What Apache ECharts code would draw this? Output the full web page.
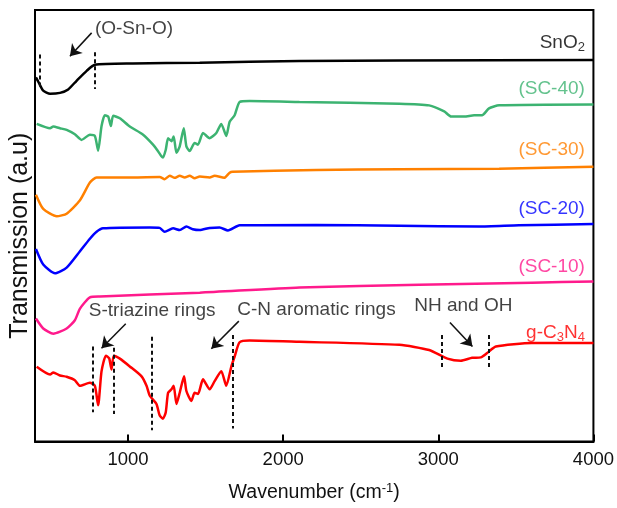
<!DOCTYPE html>
<html><head><meta charset="utf-8">
<script src="https://cdn.jsdelivr.net/npm/echarts@6/dist/echarts.min.js"></script>
<style>html,body{margin:0;padding:0;background:#fff}#c{width:617px;height:508px}</style>
</head><body><div id="c"></div>
<script>
// X tick labels (wavenumber, cm-1)
const xTicks = [1000, 2000, 3000, 4000];

// Spectra: [wavenumber, transmission (a.u., offset)]
const sno2 = [[406,84.4],[428,82.9],[453,81.3],[497,80.6],[561,80.8],[614,81.6],[668,83.6],[733,85.9],[786,87.3],[1031,87.6],[1462,87.8],[2105,88.2],[2749,88.3],[4000,88.4]];
const sc40 = [[411,73.6],[497,72.6],[518,73.0],[561,72.6],[604,72.2],[657,71.2],[700,69.9],[754,71.1],[786,70.8],[807,67.4],[829,73.1],[850,75.6],[872,75.3],[889,73.1],[904,75.5],[947,74.9],[1011,73.0],[1097,71.1],[1161,68.8],[1191,67.4],[1215,66.1],[1225,65.8],[1243,67.6],[1258,70.3],[1280,69.6],[1294,70.7],[1312,66.9],[1333,68.4],[1359,72.6],[1376,68.4],[1397,67.3],[1429,69.2],[1451,68.8],[1483,71.5],[1526,70.3],[1569,71.5],[1601,73.6],[1633,70.8],[1655,74.1],[1687,75.6],[1719,78.7],[1783,78.9],[2105,78.7],[2749,78.3],[2941,77.9],[3038,76.5],[3083,75.3],[3167,75.3],[3231,75.6],[3282,75.6],[3327,77.2],[3392,77.9],[4000,78.1]];
const sc30 = [[406,57.2],[453,53.9],[540,52.2],[604,52.8],[690,55.9],[754,60.0],[797,61.2],[1031,61.2],[1204,61.3],[1236,60.8],[1269,61.6],[1300,61.1],[1333,61.6],[1365,61.2],[1397,61.6],[1429,61.0],[1462,61.4],[1526,61.2],[1558,61.6],[1620,61.1],[1655,62.3],[1674,62.5],[2212,62.9],[2749,63.1],[3392,63.2],[4000,63.7]];
const sc20 = [[406,44.6],[453,41.0],[529,39.0],[604,40.3],[690,44.1],[754,47.0],[797,48.6],[839,49.4],[1140,49.6],[1204,49.5],[1236,48.6],[1290,49.4],[1333,49.0],[1376,49.8],[1417,49.2],[1462,49.0],[1526,49.5],[1590,49.6],[1644,48.9],[1719,50.1],[2212,50.2],[2749,50.0],[3263,49.8],[3520,50.1],[4000,50.4]];
const sc10 = [[406,28.5],[453,26.2],[518,25.0],[604,26.2],[657,28.1],[690,30.8],[754,33.4],[818,33.6],[1462,34.5],[2105,35.7],[2877,36.3],[3604,36.8],[4000,37.1]];
const gcn = [[411,17.3],[497,15.5],[518,16.0],[561,15.3],[604,15.0],[657,14.2],[690,12.9],[754,13.6],[786,12.9],[807,8.4],[829,16.3],[857,19.9],[878,19.3],[893,16.7],[908,19.9],[947,19.2],[1011,17.4],[1087,15.1],[1119,12.9],[1140,10.6],[1183,8.7],[1204,6.0],[1225,5.3],[1243,6.8],[1258,11.3],[1280,12.1],[1294,12.9],[1312,8.7],[1333,11.3],[1361,15.1],[1376,11.7],[1408,9.4],[1429,11.3],[1451,11.0],[1483,14.4],[1526,12.1],[1558,14.0],[1601,16.3],[1633,12.9],[1666,17.4],[1687,19.7],[1719,23.0],[1783,23.4],[2105,23.1],[2749,22.4],[2941,21.2],[3059,19.2],[3145,18.7],[3218,19.4],[3274,19.5],[3315,20.5],[3371,22.0],[3604,22.8],[4000,22.8]];

const seriesNames = ['SnO2', '(SC-40)', '(SC-30)', '(SC-20)', '(SC-10)', 'g-C3N4'];
const seriesData = [sno2, sc40, sc30, sc20, sc10, gcn];
const seriesColors = ['#000000', '#3cb371', '#ff8000', '#0000ff', '#ff1a8c', '#ff0000'];
const seriesLabels = ['SnO{s|2}', '(SC-40)', '(SC-30)', '(SC-20)', '(SC-10)', 'g-C{s|3}N{s|4}'];
const labelAnchors = [[3945,92.5],[3945,81.7],[3945,67.6],[3945,53.9],[3945,40.6],[3945,25.3]];

// Band markers: [wavenumber, yTop, yBottom]
const bandLines = [[428,89.7,81.7],[786,90.2,81.7],[775,22.0,6.8],[910,21.7,6.4],[1151,24.3,2.6],[1676,24.7,3.0],[3023,24.7,16.7],[3323,24.7,16.7]];
// Arrows: [x1, y1, x2, y2]
const arrows = [[765,94.7,625,89.3],[985,27.3,829,21.6],[1714,27.9,1537,21.5],[3075,27.6,3220,22.0]];
// Annotation texts and anchors (left edge, middle)
const noteTexts = ['(O-Sn-O)', 'S-triazine rings', 'C-N aromatic rings', 'NH and OH'];
const noteAnchors = [[786,95.7],[747,30.4],[1704,30.6],[2845,31.5]];

const FONT = 'Liberation Sans, Arial, Helvetica, sans-serif';
const chart = echarts.init(document.getElementById('c'), null, {renderer: 'canvas'});

const series = [];
seriesData.forEach((d, i) => {
  series.push({
    type: 'line', name: seriesNames[i], data: d, showSymbol: false, symbol: 'none',
    smooth: 0.2, lineStyle: {color: seriesColors[i], width: 2.5}, itemStyle: {color: seriesColors[i]},
    silent: true, z: 3
  });
});
// series labels
series.push({
  type: 'scatter', symbolSize: 0, silent: true, z: 5,
  data: labelAnchors.map((p, i) => ({
    value: p,
    label: {
      show: true, position: 'inside', align: 'right', verticalAlign: 'middle',
      formatter: seriesLabels[i], color: seriesColors[i], fontSize: 19, fontFamily: FONT,
      rich: {s: {fontSize: 13, color: seriesColors[i], fontFamily: FONT, padding: [10, 0, 0, 0]}}
    }
  }))
});
// annotation texts
series.push({
  type: 'scatter', symbolSize: 0, silent: true, z: 5,
  data: noteAnchors.map((p, i) => ({
    value: p,
    label: {show: true, position: 'inside', align: 'left', verticalAlign: 'middle',
      formatter: noteTexts[i], color: '#111', fontSize: 19, fontFamily: FONT}
  }))
});
// dashed band markers
series.push({
  type: 'lines', coordinateSystem: 'cartesian2d', silent: true, z: 4,
  lineStyle: {color: '#111', width: 2, type: [4, 3], opacity: 1},
  data: bandLines.map(b => ({coords: [[b[0], b[1]], [b[0], b[2]]]}))
});
// arrows
series.push({
  type: 'lines', coordinateSystem: 'cartesian2d', silent: true, z: 4,
  symbol: ['none', 'arrow'], symbolSize: [9, 11],
  lineStyle: {color: '#111', width: 1.5, opacity: 1},
  data: arrows.map(a => ({coords: [[a[0], a[1]], [a[2], a[3]]]}))
});

chart.setOption({
  animation: false,
  backgroundColor: '#fff',
  grid: {left: 35, right: 23, top: 10, bottom: 60, show: true, borderColor: '#000', borderWidth: 2, backgroundColor: 'transparent'},
  xAxis: {
    type: 'value', min: 400, max: 4000,
    name: 'Wavenumber (cm{sup|-1})', nameLocation: 'middle', nameGap: 40,
    nameTextStyle: {fontSize: 19.5, color: '#111', fontFamily: FONT,
      rich: {sup: {fontSize: 13, color: '#111', fontFamily: FONT, padding: [0, 0, 10, 0]}}},
    axisLine: {show: true, lineStyle: {color: '#000', width: 2}},
    axisTick: {show: true, inside: true, length: 7, lineStyle: {color: '#000', width: 2}, customValues: xTicks},
    axisLabel: {show: true, fontSize: 18.5, color: '#111', fontFamily: FONT, margin: 9, customValues: xTicks,
      formatter: v => String(v)},
    splitLine: {show: false}
  },
  yAxis: {
    type: 'value', min: 0, max: 100,
    name: 'Transmission (a.u)', nameLocation: 'middle', nameGap: 2,
    nameTextStyle: {fontSize: 25, color: '#111', fontFamily: FONT, padding: [0, 20, 0, 0]},
    axisLine: {show: true, lineStyle: {color: '#000', width: 2}},
    axisTick: {show: false}, axisLabel: {show: false}, splitLine: {show: false}
  },
  series: series
});
</script>
</body></html>
